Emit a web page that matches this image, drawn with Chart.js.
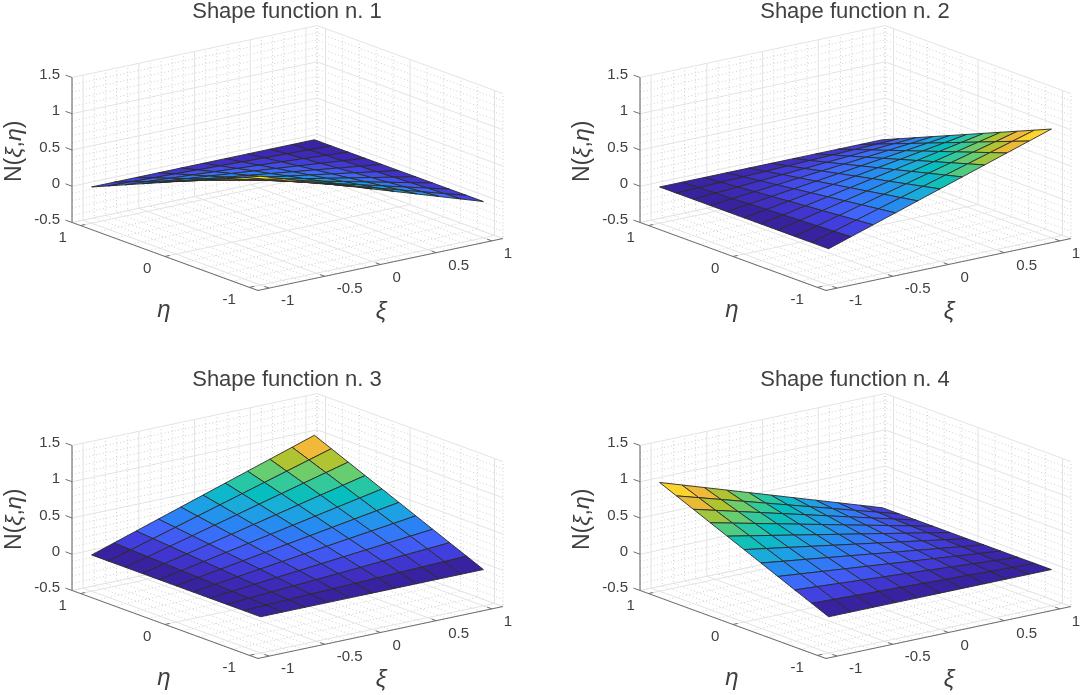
<!DOCTYPE html>
<html>
<head>
<meta charset="utf-8">
<title>Shape functions</title>
<script src="https://cdn.jsdelivr.net/npm/chart.js@4"></script>
<style>
html, body { margin: 0; background: #fff; width: 1080px; height: 695px; overflow: hidden; }
canvas { position: absolute; }
</style>
</head>
<body>
<canvas id="c1" width="574" height="329" style="left:0;top:-2px"></canvas>
<canvas id="c2" width="574" height="329" style="left:568px;top:-2px"></canvas>
<canvas id="c3" width="574" height="329" style="left:0;top:366px"></canvas>
<canvas id="c4" width="574" height="329" style="left:568px;top:366px"></canvas>
<script>
// grid of the surfaces
var xiValues  = [-1, -0.8, -0.6, -0.4, -0.2, 0, 0.2, 0.4, 0.6, 0.8, 1];
var etaValues = [-1, -0.8, -0.6, -0.4, -0.2, 0, 0.2, 0.4, 0.6, 0.8, 1];

// rows go with etaValues, columns with xiValues
var n1Values = [
  [1, .9, .8, .7, .6, .5, .4, .3, .2, .1, 0],
  [.9, .81, .72, .63, .54, .45, .36, .27, .18, .09, 0],
  [.8, .72, .64, .56, .48, .4, .32, .24, .16, .08, 0],
  [.7, .63, .56, .49, .42, .35, .28, .21, .14, .07, 0],
  [.6, .54, .48, .42, .36, .3, .24, .18, .12, .06, 0],
  [.5, .45, .4, .35, .3, .25, .2, .15, .1, .05, 0],
  [.4, .36, .32, .28, .24, .2, .16, .12, .08, .04, 0],
  [.3, .27, .24, .21, .18, .15, .12, .09, .06, .03, 0],
  [.2, .18, .16, .14, .12, .1, .08, .06, .04, .02, 0],
  [.1, .09, .08, .07, .06, .05, .04, .03, .02, .01, 0],
  [0, 0, 0, 0, 0, 0, 0, 0, 0, 0, 0]
];
var n2Values = [
  [0, .1, .2, .3, .4, .5, .6, .7, .8, .9, 1],
  [0, .09, .18, .27, .36, .45, .54, .63, .72, .81, .9],
  [0, .08, .16, .24, .32, .4, .48, .56, .64, .72, .8],
  [0, .07, .14, .21, .28, .35, .42, .49, .56, .63, .7],
  [0, .06, .12, .18, .24, .3, .36, .42, .48, .54, .6],
  [0, .05, .1, .15, .2, .25, .3, .35, .4, .45, .5],
  [0, .04, .08, .12, .16, .2, .24, .28, .32, .36, .4],
  [0, .03, .06, .09, .12, .15, .18, .21, .24, .27, .3],
  [0, .02, .04, .06, .08, .1, .12, .14, .16, .18, .2],
  [0, .01, .02, .03, .04, .05, .06, .07, .08, .09, .1],
  [0, 0, 0, 0, 0, 0, 0, 0, 0, 0, 0]
];
var n3Values = [
  [0, 0, 0, 0, 0, 0, 0, 0, 0, 0, 0],
  [0, .01, .02, .03, .04, .05, .06, .07, .08, .09, .1],
  [0, .02, .04, .06, .08, .1, .12, .14, .16, .18, .2],
  [0, .03, .06, .09, .12, .15, .18, .21, .24, .27, .3],
  [0, .04, .08, .12, .16, .2, .24, .28, .32, .36, .4],
  [0, .05, .1, .15, .2, .25, .3, .35, .4, .45, .5],
  [0, .06, .12, .18, .24, .3, .36, .42, .48, .54, .6],
  [0, .07, .14, .21, .28, .35, .42, .49, .56, .63, .7],
  [0, .08, .16, .24, .32, .4, .48, .56, .64, .72, .8],
  [0, .09, .18, .27, .36, .45, .54, .63, .72, .81, .9],
  [0, .1, .2, .3, .4, .5, .6, .7, .8, .9, 1]
];
var n4Values = [
  [0, 0, 0, 0, 0, 0, 0, 0, 0, 0, 0],
  [.1, .09, .08, .07, .06, .05, .04, .03, .02, .01, 0],
  [.2, .18, .16, .14, .12, .1, .08, .06, .04, .02, 0],
  [.3, .27, .24, .21, .18, .15, .12, .09, .06, .03, 0],
  [.4, .36, .32, .28, .24, .2, .16, .12, .08, .04, 0],
  [.5, .45, .4, .35, .3, .25, .2, .15, .1, .05, 0],
  [.6, .54, .48, .42, .36, .3, .24, .18, .12, .06, 0],
  [.7, .63, .56, .49, .42, .35, .28, .21, .14, .07, 0],
  [.8, .72, .64, .56, .48, .4, .32, .24, .16, .08, 0],
  [.9, .81, .72, .63, .54, .45, .36, .27, .18, .09, 0],
  [1, .9, .8, .7, .6, .5, .4, .3, .2, .1, 0]
];

var titles = ["Shape function n. 1", "Shape function n. 2", "Shape function n. 3", "Shape function n. 4"];

// axis ticks
var xiTicks   = [-1, -0.5, 0, 0.5, 1];
var etaTicks  = [-1, 0, 1];
var zTicks    = [-0.5, 0, 0.5, 1, 1.5];
var xiMinor   = [-1.1, -0.9, -0.8, -0.7, -0.6, -0.4, -0.3, -0.2, -0.1, 0.1, 0.2, 0.3, 0.4, 0.6, 0.7, 0.8, 0.9, 1.1];
var etaMinor  = [-1.1, -0.8, -0.6, -0.4, -0.2, 0.2, 0.4, 0.6, 0.8, 1.1];
var zMinor    = [-0.4, -0.3, -0.2, -0.1, 0.1, 0.2, 0.3, 0.4, 0.6, 0.7, 0.8, 0.9, 1.1, 1.2, 1.3, 1.4];
var axisLim   = 1.1;
var zMin      = -0.5;
var zMax      = 1.5;

// colormap
var cmapStops  = [0, .04, .09, .18, .27, .36, .42, .48, .55, .63, .72, .81, .9, 1];
var cmapColors = [
  [56, 34, 160], [62, 42, 185], [66, 62, 222], [65, 100, 250], [42, 130, 245], [30, 160, 228],
  [24, 176, 214], [6, 190, 192], [45, 200, 160], [102, 205, 112], [176, 196, 50],
  [240, 185, 55], [253, 212, 45], [250, 240, 20]
];

function faceColor(v) {
  for (var i = 1; i < cmapStops.length; i++) {
    if (v <= cmapStops[i]) {
      var t = (v - cmapStops[i - 1]) / (cmapStops[i] - cmapStops[i - 1]);
      var a = cmapColors[i - 1], b = cmapColors[i];
      return "rgb(" + Math.round(a[0] + (b[0] - a[0]) * t) + "," + Math.round(a[1] + (b[1] - a[1]) * t) + "," + Math.round(a[2] + (b[2] - a[2]) * t) + ")";
    }
  }
  return "rgb(250,240,20)";
}

// fixed matlab like view, gives canvas pixels
function project(xi, eta, z) {
  return {
    x: 287.5 + 111.4 * xi - 84.5 * eta,
    y: 232.5 - 23.6 * xi - 30.9 * eta - 72.5 * (z - zMin)
  };
}

function lineSet(points, color, dash, width) {
  return {
    data: points.map(function (p) { return project(p[0], p[1], p[2]); }),
    showLine: true,
    borderColor: color,
    borderWidth: width,
    borderDash: dash,
    pointRadius: 0,
    fill: false,
    clip: false
  };
}

function gridSets(xs, es, zs, color, dash) {
  var out = [];
  xs.forEach(function (v) {
    out.push(lineSet([[v, -axisLim, zMin], [v, axisLim, zMin], [v, axisLim, zMax]], color, dash, 1));
  });
  es.forEach(function (v) {
    out.push(lineSet([[-axisLim, v, zMin], [axisLim, v, zMin], [axisLim, v, zMax]], color, dash, 1));
  });
  zs.forEach(function (v) {
    out.push(lineSet([[-axisLim, axisLim, v], [axisLim, axisLim, v], [axisLim, -axisLim, v]], color, dash, 1));
  });
  return out;
}

function axisSets() {
  var c = "#6e6e6e", out = [];
  out.push(lineSet([[-axisLim, axisLim, zMax], [-axisLim, axisLim, zMin], [-axisLim, -axisLim, zMin], [axisLim, -axisLim, zMin]], c, [], 1.1));
  xiTicks.forEach(function (v) {
    out.push(lineSet([[v, -axisLim, zMin], [v, -axisLim + 0.055, zMin]], c, [], 1));
  });
  etaTicks.forEach(function (v) {
    out.push(lineSet([[-axisLim, v, zMin], [-axisLim + 0.042, v, zMin]], c, [], 1));
  });
  zTicks.forEach(function (v) {
    out.push(lineSet([[-axisLim, axisLim, v], [-axisLim, axisLim + 0.077, v]], c, [], 1));
  });
  return out;
}

function surfaceSets(values) {
  var cells = [];
  for (var i = 0; i < etaValues.length - 1; i++) {
    for (var j = 0; j < xiValues.length - 1; j++) {
      cells.push({ i: i, j: j, depth: xiValues[j] + etaValues[i] });
    }
  }
  // first dataset ends up on top, so nearest cells go first
  cells.sort(function (a, b) { return a.depth - b.depth; });
  return cells.map(function (c) {
    var i = c.i, j = c.j;
    var set = lineSet([
      [xiValues[j], etaValues[i], values[i][j]],
      [xiValues[j + 1], etaValues[i], values[i][j + 1]],
      [xiValues[j + 1], etaValues[i + 1], values[i + 1][j + 1]],
      [xiValues[j], etaValues[i + 1], values[i + 1][j]],
      [xiValues[j], etaValues[i], values[i][j]]
    ], "#2a2a2a", [], 0.9);
    set.fill = "shape";
    set.backgroundColor = faceColor(values[i][j]);
    return set;
  });
}

// tick labels and axis labels
var axisText = {
  id: "axisText",
  afterDraw: function (chart) {
    var ctx = chart.ctx, sx = chart.scales.x, sy = chart.scales.y;
    function put(p, dx, dy) { return { x: sx.getPixelForValue(p.x) + dx, y: sy.getPixelForValue(p.y) + dy }; }
    ctx.save();
    ctx.fillStyle = "#404040";
    ctx.font = "15px 'Liberation Sans'";
    ctx.textBaseline = "middle";
    ctx.textAlign = "right";
    zTicks.forEach(function (v) {
      var p = put(project(-axisLim, axisLim, v), -12, -2.5);
      ctx.fillText(String(v), p.x, p.y);
    });
    etaTicks.forEach(function (v) {
      var p = put(project(-axisLim, v, zMin), -13.5, 12);
      ctx.fillText(String(v), p.x, p.y);
    });
    ctx.textAlign = "left";
    xiTicks.forEach(function (v) {
      var p = put(project(v, -axisLim, zMin), 12, 13);
      ctx.fillText(String(v), p.x, p.y);
    });
    ctx.textAlign = "center";
    ctx.font = "italic 24px 'Liberation Sans'";
    ctx.fillText("\u03be", 381, 314);
    ctx.fillText("\u03b7", 164, 312);
    // ylabel, rotated, mixed fonts
    ctx.translate(15, 151);
    ctx.rotate(-Math.PI / 2);
    ctx.textAlign = "left";
    var parts = [["N(", "23px 'Liberation Sans'"], ["\u03be", "italic 23px 'Liberation Sans'"], [",", "23px 'Liberation Sans'"], ["\u03b7", "italic 23px 'Liberation Sans'"], [")", "23px 'Liberation Sans'"]];
    var pos = -33;
    parts.forEach(function (t) {
      ctx.font = t[1];
      ctx.fillText(t[0], pos, 0);
      pos += ctx.measureText(t[0]).width;
    });
    ctx.restore();
  }
};

function drawPanel(id, title, values) {
  var sets = surfaceSets(values)
    .concat(axisSets())
    .concat(gridSets(xiTicks, etaTicks, zTicks, "#e3e3e3", []))
    .concat(gridSets(xiMinor, etaMinor, zMinor, "#cfcfcf", [1, 2.5]));
  new Chart(document.getElementById(id), {
    type: "scatter",
    data: { datasets: sets },
    options: {
      responsive: false,
      animation: false,
      layout: { padding: 0 },
      scales: {
        x: { type: "linear", min: 0, max: 574, display: false },
        y: { type: "linear", min: 30.6, max: 329, reverse: true, display: false }
      },
      plugins: {
        legend: { display: false },
        tooltip: { enabled: false },
        title: {
          display: true,
          text: title,
          color: "#404040",
          font: { family: "'Liberation Sans'", size: 22, weight: "normal", lineHeight: 1.3 },
          padding: { top: 0, bottom: 2 }
        }
      }
    },
    plugins: [axisText]
  });
}

drawPanel("c1", titles[0], n1Values);
drawPanel("c2", titles[1], n2Values);
drawPanel("c3", titles[2], n3Values);
drawPanel("c4", titles[3], n4Values);
</script>
</body>
</html>
